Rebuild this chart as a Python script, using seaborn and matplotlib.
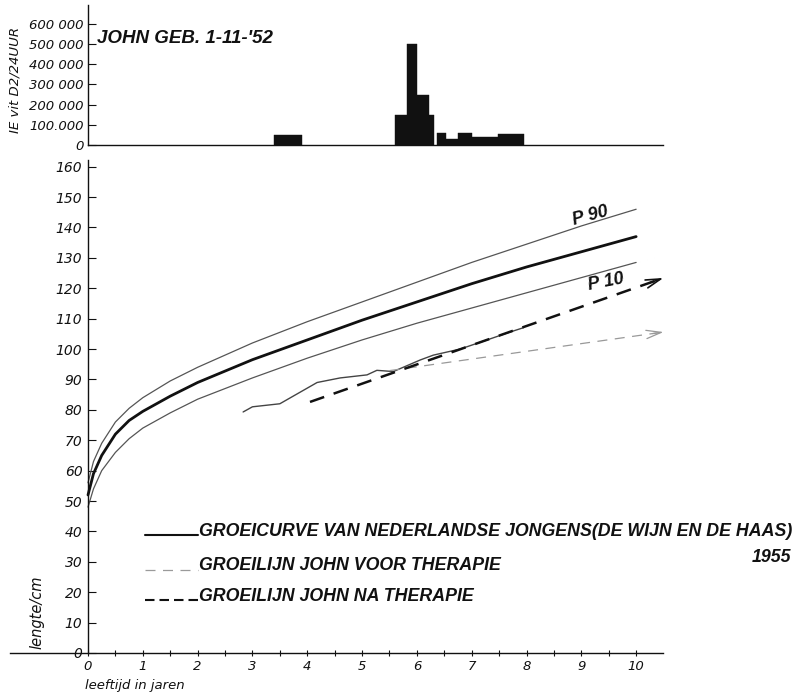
import matplotlib
matplotlib.use("Agg")
import matplotlib.pyplot as plt
from matplotlib.lines import Line2D
import pandas as pd
import seaborn as sns

# Reference growth curves, Dutch boys (De Wijn en De Haas): length (cm) by age (years)
ref_age = [0, 0.1, 0.25, 0.5, 0.75, 1, 1.5, 2, 3, 4, 5, 6, 7, 8, 9, 10]
p50 = [52, 59, 65, 72, 76.5, 79.5, 84.5, 89, 96.5, 103, 109.5, 115.5, 121.5, 127, 132, 137]
p90 = [56, 63, 69, 76, 80.5, 84, 89.5, 94, 102, 109, 115.5, 122, 128.5, 134.5, 140.5, 146]
p10 = [48, 54, 60, 66, 70.5, 74, 79, 83.5, 90.5, 97, 103, 108.5, 113.5, 118.5, 123.5, 128.5]

# John's measured length
john_age = [2.83, 3.0, 3.5, 4.18, 4.6, 5.09, 5.27, 5.57, 5.88, 6.06, 6.3, 6.79, 7.28, 7.7, 7.94]
john_len = [79.3, 81, 82, 89, 90.5, 91.5, 93, 92.6, 95, 96.4, 98, 100, 103, 105.6, 107]

# Growth trend lines before and after therapy
pre_age = [5.5, 10.5]
pre_len = [92.9, 105.6]
post_age = [4.05, 10.5]
post_len = [82.6, 123.4]

# Vitamin D2 dosage periods (years) and daily dose (I.E.)
dose_start = [3.4, 5.6, 5.82, 6.0, 6.22, 6.37, 6.53, 6.75, 7.0, 7.48]
dose_end = [3.9, 5.82, 6.0, 6.22, 6.31, 6.53, 6.75, 7.0, 7.48, 7.95]
dose_iu = [50000, 150000, 500000, 250000, 148000, 60000, 30000, 60000, 40000, 55000]

dose_ticks = [0, 100000, 200000, 300000, 400000, 500000, 600000]
dose_labels = ["0", "100.000", "200 000", "300 000", "400 000", "500 000", "600 000"]
len_ticks = list(range(0, 161, 10))
age_ticks = list(range(0, 11))

sns.set_theme(style="white")
plt.rcParams["font.family"] = ["DejaVu Sans"]

W, H = 799, 696
fig = plt.figure(figsize=(W / 100, H / 100), dpi=100)


def fx(px):
    return px / W


def fy(py):
    return 1 - py / H


INK = "#111111"
hand = dict(style="italic", color=INK)
letter = dict(family=["Liberation Sans", "DejaVu Sans"], weight="bold", style="italic", color=INK)

# ---- main growth chart ----
ax = fig.add_axes([fx(10), fy(653), (663 - 10) / W, (653 - 160) / H])
ax.set_xlim(-1.423, 10.49)
ax.set_ylim(0, 162.2)

curves = pd.DataFrame({"age": ref_age, "P50": p50, "P90": p90, "P10": p10})
sns.lineplot(data=curves, x="age", y="P90", ax=ax, color="#555555", lw=0.9)
sns.lineplot(data=curves, x="age", y="P10", ax=ax, color="#555555", lw=0.9)
sns.lineplot(data=curves, x="age", y="P50", ax=ax, color=INK, lw=2.0)

john = pd.DataFrame({"age": john_age, "length": john_len})
sns.lineplot(data=john, x="age", y="length", ax=ax, color="#444444", lw=1.0)

pre = pd.DataFrame({"age": pre_age, "length": pre_len})
sns.lineplot(data=pre, x="age", y="length", ax=ax, color="#999999", lw=0.9,
             linestyle=(0, (8, 6)))
post = pd.DataFrame({"age": post_age, "length": post_len})
sns.lineplot(data=post, x="age", y="length", ax=ax, color=INK, lw=1.8,
             linestyle=(0, (6, 4)))

for xs, ys, col, lw in [(pre_age, pre_len, "#999999", 0.9), (post_age, post_len, INK, 1.2)]:
    dx = xs[1] - xs[0]
    dy = ys[1] - ys[0]
    ax.annotate("", xy=(xs[1], ys[1]), xytext=(xs[1] - 0.04 * dx, ys[1] - 0.04 * dy),
                arrowprops=dict(arrowstyle="->,head_length=0.9,head_width=0.25",
                                color=col, lw=lw, shrinkA=0, shrinkB=0),
                annotation_clip=False)

ax.text(9.16, 143.8, "P 90", rotation=15, ha="center", va="center", fontsize=13, **letter)
ax.text(9.45, 122.0, "P 10", rotation=11, ha="center", va="center", fontsize=13, **letter)

ax.spines["left"].set_position(("data", 0))
ax.spines["right"].set_visible(False)
ax.spines["top"].set_visible(False)
for s in ("left", "bottom"):
    ax.spines[s].set_color(INK)
    ax.spines[s].set_linewidth(1.0)

ax.set_yticks(len_ticks)
ax.set_yticklabels([str(v) for v in len_ticks], fontsize=10, **hand)
ax.set_xticks(age_ticks)
ax.set_xticklabels([str(v) for v in age_ticks], fontsize=9.5, **hand)
ax.set_xticks([a + 0.5 for a in age_ticks[:-1]], minor=True)
ax.tick_params(axis="y", direction="in", length=6, width=0.8, color=INK, pad=4, left=True)
ax.tick_params(axis="x", which="both", direction="inout", length=5, width=0.8, color=INK,
               pad=2.5, bottom=True)
ax.set_xlabel("")
ax.set_ylabel("")

# ---- vitamin D2 dosage panel ----
ax2 = fig.add_axes([fx(88), fy(145), (663 - 88) / W, (145 - 5) / H])
ax2.set_xlim(0, 10.49)
ax2.set_ylim(0, 694000)
ax2.bar(dose_start, dose_iu, width=[e - s for s, e in zip(dose_start, dose_end)],
        align="edge", color=INK, edgecolor=INK, lw=0.3)
ax2.spines["right"].set_visible(False)
ax2.spines["top"].set_visible(False)
for s in ("left", "bottom"):
    ax2.spines[s].set_color(INK)
    ax2.spines[s].set_linewidth(1.0)
ax2.set_yticks(dose_ticks)
ax2.set_yticklabels(dose_labels, fontsize=9.5, **hand)
ax2.set_xticks([])
ax2.tick_params(axis="y", direction="in", length=6, width=0.8, color=INK, pad=3, left=True)
ax2.set_xlabel("")
ax2.set_ylabel("")

fig.text(fx(97), fy(43), "JOHN GEB. 1-11-'52", ha="left", va="baseline", fontsize=13.5, **letter)

# ---- axis titles ----
fig.text(fx(15), fy(80), "IE vit D2/24UUR", rotation=90, ha="center", va="center",
         fontsize=9.5, **hand)
fig.text(fx(37), fy(612), "lengte/cm", rotation=90, ha="center", va="center",
         fontsize=10.5, **hand)
fig.text(fx(85), fy(685), "leeftijd in jaren", ha="left", va="center", fontsize=9.5, **hand)

# ---- legend ----
fig.add_artist(Line2D([fx(145), fx(198)], [fy(535), fy(535)], transform=fig.transFigure,
                      color=INK, lw=1.5))
fig.add_artist(Line2D([fx(145), fx(198)], [fy(570), fy(570)], transform=fig.transFigure,
                      color="#9a9a9a", lw=0.9, linestyle=(0, (8, 6))))
fig.add_artist(Line2D([fx(145), fx(198)], [fy(600), fy(600)], transform=fig.transFigure,
                      color=INK, lw=1.5, linestyle=(0, (4.56, 2.4)), solid_capstyle="butt",
                      dash_capstyle="butt"))

fig.text(fx(199), fy(536), "GROEICURVE VAN NEDERLANDSE JONGENS(DE WIJN EN DE HAAS)",
         ha="left", va="baseline", fontsize=12.8, **letter)
fig.text(fx(199), fy(570), "GROEILIJN JOHN VOOR THERAPIE", ha="left", va="baseline",
         fontsize=12.8, **letter)
fig.text(fx(199), fy(601), "GROEILIJN JOHN NA THERAPIE", ha="left", va="baseline",
         fontsize=12.8, **letter)
fig.text(fx(791), fy(562), "1955", ha="right", va="baseline", fontsize=12.8, **letter)

fig.savefig("out.png", dpi=100, facecolor="white")
